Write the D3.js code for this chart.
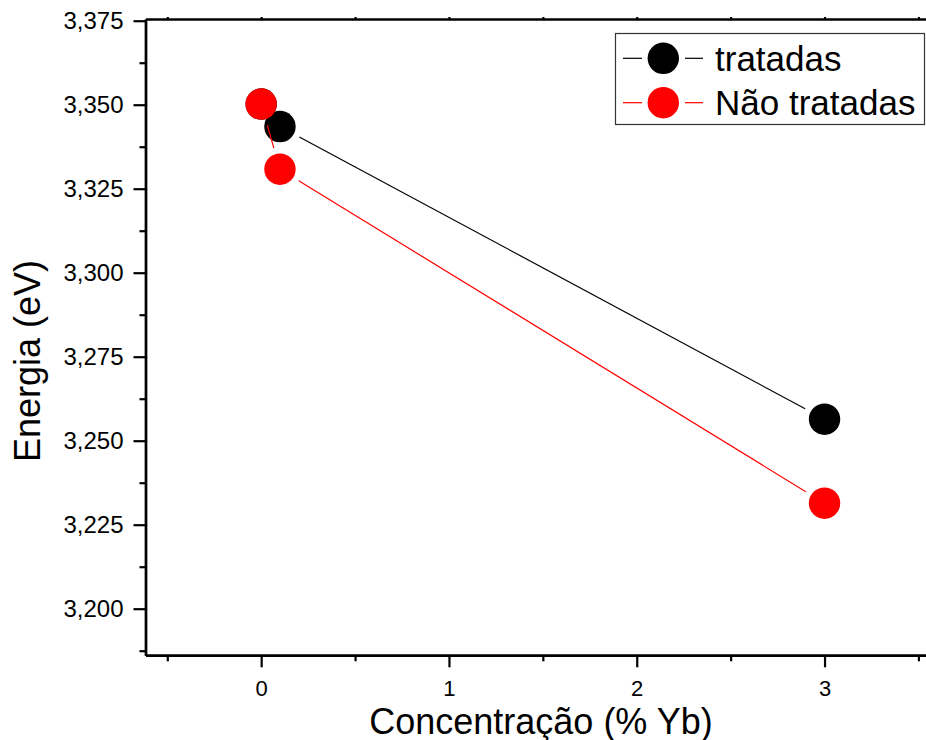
<!DOCTYPE html>
<html>
<head>
<meta charset="utf-8">
<script src="https://cdn.jsdelivr.net/npm/d3@7"></script>
<style>
  body { margin: 0; background: #fff; }
  svg { display: block; font-family: Arial, "Liberation Sans", sans-serif; }
</style>
</head>
<body>
<div id="chart"></div>
<script>
// values
var concentration = [0, 0.1, 3];
var tratadas = [3.3502, 3.3435, 3.2564];
var naoTratadas = [3.3502, 3.3308, 3.2314];
var seriesNames = ['tratadas', 'Não tratadas'];
var seriesColors = ['#000000', '#ff0000'];
var xTicks = [0, 1, 2, 3];
var xMinorTicks = [-0.5, 0.5, 1.5, 2.5, 3.5];
var yTicks = [3.200, 3.225, 3.250, 3.275, 3.300, 3.325, 3.350, 3.375];
var yMinorTicks = [3.1875, 3.2125, 3.2375, 3.2625, 3.2875, 3.3125, 3.3375, 3.3625];

var W = 926, H = 740;
var plotLeft = 145.5, plotRight = 928, plotTop = 19, plotBottom = 655.3;

var svg = d3.select('#chart').append('svg')
	.attr('width', W).attr('height', H);

var x = d3.scaleLinear().domain([-0.616, 3.551]).range([plotLeft, plotRight]);
var y = d3.scaleLinear().domain([3.18613, 3.37551]).range([plotBottom, plotTop]);

var ptBR = d3.formatLocale({ decimal: ',', thousands: '.', grouping: [3], currency: ['', ''] });
var fmt = ptBR.format('.3f');

// axes
var gx = svg.append('g').attr('transform', 'translate(0,' + plotBottom + ')')
	.call(d3.axisBottom(x).tickValues(xTicks).tickSize(12).tickSizeOuter(0).tickPadding(12).tickFormat(d3.format('d')));
var gxm = svg.append('g').attr('transform', 'translate(0,' + plotBottom + ')')
	.call(d3.axisBottom(x).tickValues(xMinorTicks).tickSize(6).tickSizeOuter(0).tickFormat(''));
var gy = svg.append('g').attr('transform', 'translate(' + plotLeft + ',0)')
	.call(d3.axisLeft(y).tickValues(yTicks).tickSize(12).tickSizeOuter(0).tickPadding(10).tickFormat(fmt));
var gym = svg.append('g').attr('transform', 'translate(' + plotLeft + ',0)')
	.call(d3.axisLeft(y).tickValues(yMinorTicks).tickSize(6).tickSizeOuter(0).tickFormat(''));
var gt = svg.append('g').attr('transform', 'translate(0,' + plotTop + ')')
	.call(d3.axisTop(x).tickValues(xTicks.concat(xMinorTicks)).tickSize(2).tickSizeOuter(0).tickFormat(''));

[gx, gxm, gy, gym, gt].forEach(function (g) {
	g.attr('font-family', null);
	g.selectAll('.domain').attr('stroke', '#000').attr('stroke-width', 2.4);
	g.selectAll('.tick line').attr('stroke', '#000').attr('stroke-width', 2.2);
});
gx.selectAll('.tick text').attr('font-size', 22).attr('fill', '#000')
	.attr('dy', '0.71em').attr('y', 25);
gy.selectAll('.tick text').attr('font-size', 24).attr('fill', '#000');

// axis titles
svg.append('text')
	.attr('x', 541).attr('y', 734)
	.attr('text-anchor', 'middle').attr('font-size', 36)
	.text('Concentração (% Yb)');
svg.append('text')
	.attr('transform', 'translate(39.5,361) rotate(-90)')
	.attr('text-anchor', 'middle').attr('font-size', 36)
	.text('Energia (eV)');

// series: lines with gaps around the symbols, then symbols
var r = 15.7, gap = 22;
var plot = svg.append('g');
[tratadas, naoTratadas].forEach(function (vals, si) {
	var pts = concentration.map(function (c, i) { return [x(c), y(vals[i])]; });
	for (var i = 0; i < pts.length - 1; i++) {
		var a = pts[i], b = pts[i + 1];
		var dx = b[0] - a[0], dy = b[1] - a[1], len = Math.sqrt(dx * dx + dy * dy);
		if (len <= 2 * gap) continue;
		var ux = dx / len, uy = dy / len;
		plot.append('line')
			.attr('x1', a[0] + ux * gap).attr('y1', a[1] + uy * gap)
			.attr('x2', b[0] - ux * gap).attr('y2', b[1] - uy * gap)
			.attr('stroke', seriesColors[si]).attr('stroke-width', 1.2);
	}
	plot.selectAll(null).data(pts).enter().append('circle')
		.attr('cx', function (d) { return d[0]; })
		.attr('cy', function (d) { return d[1]; })
		.attr('r', r)
		.attr('fill', seriesColors[si]);
});

// legend
var legend = svg.append('g');
legend.append('rect')
	.attr('x', 615.5).attr('y', 33.5).attr('width', 309).attr('height', 91)
	.attr('fill', '#fff').attr('stroke', '#333').attr('stroke-width', 1.2);
seriesNames.forEach(function (name, i) {
	var cy = 58.3 + i * 44.4;
	legend.append('line').attr('x1', 623).attr('x2', 642).attr('y1', cy).attr('y2', cy)
		.attr('stroke', seriesColors[i]).attr('stroke-width', 1.2);
	legend.append('line').attr('x1', 685).attr('x2', 703).attr('y1', cy).attr('y2', cy)
		.attr('stroke', seriesColors[i]).attr('stroke-width', 1.2);
	legend.append('circle').attr('cx', 663.3).attr('cy', cy).attr('r', r)
		.attr('fill', seriesColors[i]);
	legend.append('text').attr('x', 715).attr('y', cy + 12.5)
		.attr('font-size', 35).attr('fill', '#000').text(name);
});
</script>
</body>
</html>
